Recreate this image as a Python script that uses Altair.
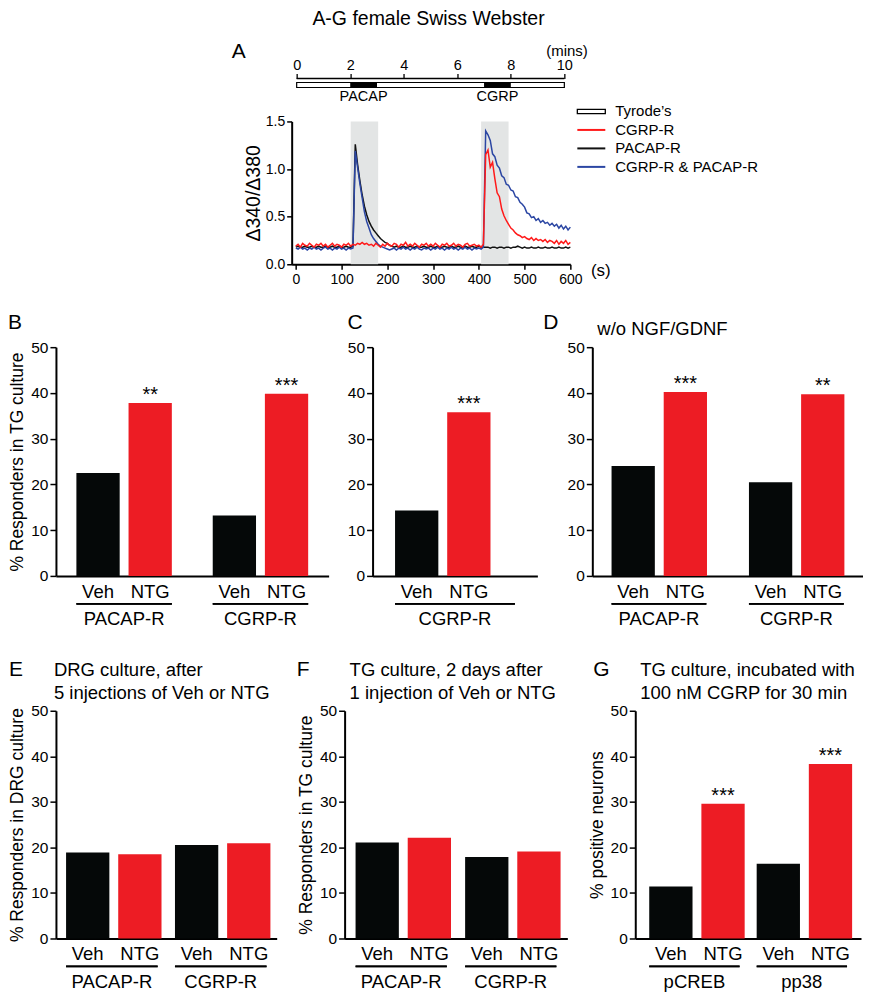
import altair as alt
import pandas as pd

# ---------------- data ----------------
TIME_S = list(range(0, 601, 5))
CGRP_R = [
    0.19, 0.21, 0.18, 0.22, 0.20, 0.19, 0.22, 0.20, 0.18, 0.21,
    0.20, 0.22, 0.19, 0.21, 0.18, 0.20, 0.22, 0.19, 0.21, 0.20,
    0.18, 0.21, 0.20, 0.22, 0.19, 0.21, 0.20, 0.22, 0.21, 0.23,
    0.21, 0.22, 0.20, 0.21, 0.19, 0.22, 0.20, 0.18, 0.21, 0.19,
    0.22, 0.20, 0.19, 0.22, 0.21, 0.18, 0.21, 0.20, 0.23, 0.19,
    0.21, 0.19, 0.22, 0.20, 0.18, 0.21, 0.20, 0.22, 0.19, 0.21,
    0.19, 0.22, 0.20, 0.18, 0.21, 0.20, 0.22, 0.19, 0.20, 0.22,
    0.19, 0.21, 0.20, 0.18, 0.21, 0.22, 0.19, 0.20, 0.21, 0.19,
    0.20, 0.18, 0.21, 1.15, 1.20, 1.02, 1.07, 0.90, 0.75, 0.71,
    0.58, 0.51, 0.46, 0.42, 0.38, 0.36, 0.33, 0.31, 0.30, 0.28,
    0.29, 0.27, 0.26, 0.28, 0.25, 0.27, 0.25, 0.26, 0.24, 0.26,
    0.23, 0.25, 0.24, 0.22, 0.25, 0.21, 0.24, 0.22, 0.25, 0.21,
    0.23,
]
PACAP_R = [
    0.18, 0.19, 0.18, 0.18, 0.19, 0.18, 0.18, 0.19, 0.18, 0.18,
    0.19, 0.18, 0.18, 0.19, 0.18, 0.18, 0.19, 0.18, 0.18, 0.19,
    0.18, 0.18, 0.19, 0.18, 0.18, 0.19, 1.26, 1.05, 0.88, 0.73,
    0.61, 0.52, 0.45, 0.40, 0.36, 0.33, 0.30, 0.27, 0.25, 0.23,
    0.22, 0.20, 0.19, 0.18, 0.19, 0.18, 0.18, 0.19, 0.18, 0.18,
    0.19, 0.18, 0.18, 0.19, 0.18, 0.18, 0.19, 0.18, 0.18, 0.19,
    0.18, 0.18, 0.19, 0.18, 0.18, 0.19, 0.18, 0.18, 0.19, 0.18,
    0.18, 0.19, 0.18, 0.18, 0.19, 0.18, 0.18, 0.19, 0.18, 0.18,
    0.19, 0.18, 0.18, 0.18, 0.18, 0.17, 0.18, 0.18, 0.17, 0.18,
    0.18, 0.17, 0.18, 0.18, 0.17, 0.18, 0.18, 0.19, 0.18, 0.17,
    0.18, 0.17, 0.17, 0.18, 0.17, 0.17, 0.18, 0.17, 0.17, 0.18,
    0.17, 0.17, 0.18, 0.17, 0.17, 0.18, 0.17, 0.17, 0.18, 0.17,
    0.18,
]
BOTH_R = [
    0.17, 0.16, 0.18, 0.16, 0.17, 0.15, 0.17, 0.16, 0.18, 0.16,
    0.17, 0.15, 0.17, 0.18, 0.16, 0.17, 0.15, 0.17, 0.16, 0.18,
    0.16, 0.17, 0.15, 0.17, 0.16, 0.17, 1.19, 1.02, 0.85, 0.70,
    0.55, 0.45, 0.38, 0.31, 0.27, 0.24, 0.21, 0.19, 0.18, 0.17,
    0.16, 0.15, 0.16, 0.17, 0.15, 0.17, 0.16, 0.18, 0.16, 0.17,
    0.15, 0.17, 0.16, 0.18, 0.16, 0.15, 0.17, 0.16, 0.17, 0.15,
    0.17, 0.16, 0.18, 0.16, 0.17, 0.15, 0.17, 0.16, 0.18, 0.16,
    0.17, 0.15, 0.17, 0.16, 0.18, 0.16, 0.17, 0.15, 0.17, 0.16,
    0.17, 0.16, 0.18, 1.40, 1.36, 1.30, 1.16, 1.13, 1.04, 1.01,
    0.93, 0.91, 0.84, 0.83, 0.78, 0.77, 0.71, 0.70, 0.65, 0.63,
    0.60, 0.54, 0.53, 0.49, 0.50, 0.46, 0.48, 0.44, 0.46, 0.43,
    0.44, 0.41, 0.43, 0.40, 0.42, 0.38, 0.41, 0.37, 0.40, 0.36,
    0.39,
]
SHADE_START = [120, 405]
SHADE_END = [180, 465]

PERFUSION_START = [0]
PERFUSION_END = [10]
STIM_NAMES = ["PACAP", "CGRP"]
STIM_START = [2, 7]
STIM_END = [3, 8]

LEGEND_LABELS = ["Tyrode\u2019s", "CGRP-R", "PACAP-R", "CGRP-R & PACAP-R"]

CONDITIONS = ["Veh", "NTG"]

B_GROUPS = ["PACAP-R", "CGRP-R"]
B_VEH = [22.5, 13.2]
B_NTG = [37.8, 39.8]
B_STARS = ["**", "***"]

C_GROUPS = ["CGRP-R"]
C_VEH = [14.3]
C_NTG = [35.8]
C_STARS = ["***"]

D_GROUPS = ["PACAP-R", "CGRP-R"]
D_VEH = [24.0, 20.5]
D_NTG = [40.2, 39.7]
D_STARS = ["***", "**"]

E_GROUPS = ["PACAP-R", "CGRP-R"]
E_VEH = [18.9, 20.5]
E_NTG = [18.5, 20.9]
E_STARS = ["", ""]

F_GROUPS = ["PACAP-R", "CGRP-R"]
F_VEH = [21.1, 17.9]
F_NTG = [22.1, 19.1]
F_STARS = ["", ""]

G_GROUPS = ["pCREB", "pp38"]
G_VEH = [11.4, 16.4]
G_NTG = [29.6, 38.3]
G_STARS = ["***", "***"]

assert len(TIME_S) == len(CGRP_R) == len(PACAP_R) == len(BOTH_R)

# ---------------- style ----------------
FONT = "Liberation Sans"
BAR_BLACK = "#050808"
BAR_RED = "#ed1c24"
LINE_RED = "#ff1a1a"
LINE_BLACK = "#111111"
LINE_BLUE = "#2b46a3"
SHADE = "#e3e5e5"


def tick_rule(test, minor, major):
    return {"condition": {"test": test, "value": minor}, "value": major}


# ---------------- bar panels ----------------
def bar_panel(groups, veh, ntg, stars, width, height, pad_outer, pad_inner, pad_sub,
              letter, letter_x, letter_y, ytitle=None, note=None, note_x=0, note_y=0):
    rows = []
    for g, v, n, s in zip(groups, veh, ntg, stars):
        rows.append({"group": g, "cond": CONDITIONS[0], "value": v, "star": ""})
        rows.append({"group": g, "cond": CONDITIONS[1], "value": n, "star": s})
    df = pd.DataFrame(rows)
    base = alt.Chart(df)

    xscale = alt.Scale(paddingInner=pad_inner, paddingOuter=pad_outer)
    x_axis = alt.X(
        "group:N", sort=groups, scale=xscale,
        axis=alt.Axis(title=None, ticks=False, tickSize=0, labelAngle=0, labelPadding=43,
                      labelBaseline="middle", labelFontSize=18.5, domainWidth=2,
                      labelOverlap=False),
    )
    x_plain = alt.X("group:N", sort=groups, scale=xscale)
    xo = alt.XOffset("cond:N", sort=CONDITIONS,
                     scale=alt.Scale(paddingInner=pad_sub, paddingOuter=0))
    yscale = alt.Scale(domain=[0, 50], nice=False)
    y_axis = alt.Y(
        "value:Q", scale=yscale,
        axis=alt.Axis(title=ytitle, values=list(range(0, 51, 5)),
                      labelExpr="datum.value % 10 == 0 ? datum.label : ''",
                      tickSize=tick_rule("datum.value % 10 != 0", 3, 6),
                      tickWidth=1.5, domainWidth=2, labelFontSize=15.5, labelPadding=2,
                      titleFontSize=17.5, titleFontWeight="normal", labelOverlap=False,
                      grid=False),
    )

    bars = base.mark_bar().encode(
        x=x_axis, xOffset=xo, y=y_axis,
        color=alt.condition(alt.datum.cond == CONDITIONS[0],
                            alt.value(BAR_BLACK), alt.value(BAR_RED)),
    )
    cond_text = base.mark_text(fontSize=18.5, baseline="middle", color="black").encode(
        x=x_plain, xOffset=xo, y=alt.value(height + 16), text="cond:N"
    )
    underline = base.mark_bar(color="black").encode(
        x=x_plain, y=alt.value(height + 27), y2=alt.value(height + 28.8)
    )
    star_text = base.mark_text(fontSize=20, baseline="alphabetic", dy=-2, color="black").encode(
        x=x_plain, xOffset=xo, y=alt.Y("value:Q", scale=yscale), text="star:N"
    ).transform_filter("datum.star != ''")
    letter_chart = alt.Chart(pd.DataFrame({"t": [letter]})).mark_text(
        fontSize=21, align="left", baseline="alphabetic", color="black"
    ).encode(x=alt.value(letter_x), y=alt.value(letter_y), text="t:N")
    layers = [bars, cond_text, underline, star_text, letter_chart]
    if note is not None:
        note_chart = alt.Chart(pd.DataFrame({"t": [note]})).mark_text(
            fontSize=18.5, align="left", baseline="alphabetic", color="black",
            lineBreak="\n", lineHeight=23
        ).encode(x=alt.value(note_x), y=alt.value(note_y), text="t:N")
        layers.append(note_chart)
    return alt.layer(*layers).properties(width=width, height=height)


B = bar_panel(B_GROUPS, B_VEH, B_NTG, B_STARS, 273, 229, 0.15, 0.30, 0.17,
              "B", -48, -18, ytitle="% Responders in TG culture")
C = bar_panel(C_GROUPS, C_VEH, C_NTG, C_STARS, 165, 229, 0.1875, 0.0, 0.44,
              "C", -25, -18)
D = bar_panel(D_GROUPS, D_VEH, D_NTG, D_STARS, 271, 229, 0.14, 0.31, 0.17,
              "D", -49, -18, note="w/o NGF/GDNF", note_x=5, note_y=-12)
E = bar_panel(E_GROUPS, E_VEH, E_NTG, E_STARS, 221, 228, 0.093, 0.159, 0.065,
              "E", -47, -35, ytitle="% Responders in DRG culture",
              note="DRG culture, after\n5 injections of Veh or NTG", note_x=-2, note_y=-35)
F = bar_panel(F_GROUPS, F_VEH, F_NTG, F_STARS, 223, 228, 0.10, 0.167, 0.065,
              "F", -48, -35, ytitle="% Responders in TG culture",
              note="TG culture, 2 days after\n1 injection of Veh or NTG", note_x=5, note_y=-35)
G = bar_panel(G_GROUPS, G_VEH, G_NTG, G_STARS, 226, 228, 0.13, 0.159, 0.065,
              "G", -42, -35, ytitle="% positive neurons",
              note="TG culture, incubated with\n100 nM CGRP for 30 min", note_x=5, note_y=-35)

# ---------------- panel A: timeline ----------------
TL_W, TL_H = 273, 5
tl_scale = alt.Scale(domain=[-0.187, 10], nice=False)
perf_df = pd.DataFrame({"start": PERFUSION_START, "end": PERFUSION_END})
stim_df = pd.DataFrame({"name": STIM_NAMES, "start": STIM_START, "end": STIM_END})

perf_rect = alt.Chart(perf_df).mark_rect(fill="white", stroke="black", strokeWidth=1.2).encode(
    x=alt.X("start:Q", scale=tl_scale,
            axis=alt.Axis(orient="top", offset=4, domain=False, values=list(range(0, 11)),
                          labelExpr="datum.value % 2 == 0 ? datum.label : ''",
                          tickSize=tick_rule("datum.value % 2 != 0", 3, 5), tickWidth=1.3,
                          labelPadding=1, labelFontSize=14.5, labelFlush=False,
                          labelOverlap=False, grid=False,
                          title="(mins)", titleAngle=0, titleAlign="right", titleX=296,
                          titleY=-23, titleBaseline="alphabetic", titleFontSize=15,
                          titleFontWeight="normal")),
    x2="end:Q",
)
perf_line = alt.Chart(perf_df).mark_rule(color="black", strokeWidth=1.5).encode(
    x=alt.X("start:Q", scale=tl_scale), x2="end:Q", y=alt.value(-4)
)
stim_rect = alt.Chart(stim_df).mark_rect(color="black").encode(
    x=alt.X("start:Q", scale=tl_scale), x2="end:Q"
)
stim_text = alt.Chart(stim_df).transform_calculate(mid="(datum.start + datum.end) / 2").mark_text(
    fontSize=14.5, baseline="middle", color="black"
).encode(x=alt.X("mid:Q", scale=tl_scale), y=alt.value(15), text="name:N")
letter_a = alt.Chart(pd.DataFrame({"t": ["A"]})).mark_text(
    fontSize=21, align="left", baseline="alphabetic", color="black"
).encode(x=alt.value(-60), y=alt.value(-24.5), text="t:N")

timeline = alt.layer(perf_rect, perf_line, stim_rect, stim_text, letter_a).properties(
    width=TL_W, height=TL_H
)

# ---------------- panel A: traces ----------------
TR_W, TR_H = 279, 143
tr_x = alt.Scale(domain=[-9, 600], nice=False)
tr_y = alt.Scale(domain=[0, 1.5], nice=False)

shade_df = pd.DataFrame({"start": SHADE_START, "end": SHADE_END})
shades = alt.Chart(shade_df).mark_rect(color=SHADE).encode(
    x=alt.X("start:Q", scale=tr_x,
            axis=alt.Axis(title="(s)", values=list(range(0, 601, 50)),
                          labelExpr="datum.value % 100 == 0 ? datum.label : ''",
                          tickSize=tick_rule("datum.value % 100 != 0", 3, 5), tickWidth=1.5,
                          domainWidth=2, labelFontSize=14, labelPadding=3, labelFlush=False,
                          labelOverlap=False, grid=False,
                          titleAngle=0, titleAlign="center", titleBaseline="middle",
                          titleX=309, titleY=6, titleFontSize=17, titleFontWeight="normal")),
    x2="end:Q",
)


def trace_line(values, color, with_axis):
    df = pd.DataFrame({"t": TIME_S, "v": values})
    if with_axis:
        yenc = alt.Y("v:Q", scale=tr_y,
                     axis=alt.Axis(title="\u0394340/\u0394380", values=[0, 0.25, 0.5, 0.75, 1.0, 1.25, 1.5],
                                   labelExpr="datum.value % 0.5 == 0 ? format(datum.value, '.1f') : ''",
                                   tickSize=tick_rule("datum.value % 0.5 != 0", 3, 5),
                                   tickWidth=1.5, domainWidth=2, labelFontSize=14,
                                   labelPadding=2, titleFontSize=19.5, titlePadding=2,
                                   titleFontWeight="normal", labelOverlap=False, grid=False))
    else:
        yenc = alt.Y("v:Q", scale=tr_y)
    return alt.Chart(df).mark_line(color=color, strokeWidth=1.5).encode(
        x=alt.X("t:Q", scale=tr_x), y=yenc
    )


lines = alt.layer(
    shades,
    trace_line(PACAP_R, LINE_BLACK, True),
    trace_line(BOTH_R, LINE_BLUE, False),
    trace_line(CGRP_R, LINE_RED, False),
)

leg_df = pd.DataFrame({"label": LEGEND_LABELS})
leg_y = alt.Y("label:N", sort=LEGEND_LABELS,
              scale=alt.Scale(type="point", domain=LEGEND_LABELS, range=[-10, 45.5], padding=0),
              axis=None)
leg_rect = alt.Chart(leg_df).transform_filter(
    alt.datum.label == LEGEND_LABELS[0]
).mark_point(shape="M-1,-0.15L1,-0.15L1,0.15L-1,0.15Z", size=784, filled=False,
             color="black", strokeWidth=1.3, opacity=1).encode(x=alt.value(300), y=leg_y)
leg_lines = alt.Chart(leg_df).transform_filter(
    alt.datum.label != LEGEND_LABELS[0]
).mark_point(shape="M-1,0L1,0", size=784, filled=False, strokeWidth=2, opacity=1).encode(
    x=alt.value(300), y=leg_y,
    color=alt.Color("label:N", scale=alt.Scale(domain=LEGEND_LABELS[1:],
                                               range=[LINE_RED, LINE_BLACK, LINE_BLUE]),
                    legend=None),
)
leg_text = alt.Chart(leg_df).mark_text(fontSize=15, align="left", baseline="middle",
                                       color="black").encode(
    x=alt.value(324), y=leg_y, text="label:N"
)

trace = alt.layer(lines, leg_rect, leg_lines, leg_text).resolve_scale(y="independent").properties(
    width=TR_W, height=TR_H
)

SPACER_W = 176
spacer = alt.Chart(pd.DataFrame({"a": [0]})).mark_rect(color="white").encode(
    x=alt.value(0), x2=alt.value(SPACER_W), y=alt.value(0), y2=alt.value(1)
).properties(width=SPACER_W, height=1)

row_a = alt.hconcat(spacer, alt.vconcat(timeline, trace, spacing=0), spacing=0)
row_bd = alt.hconcat(alt.hconcat(B, C, spacing=18), D, spacing=6)
row_eg = alt.hconcat(alt.hconcat(E, F, spacing=20), G, spacing=20)

chart = alt.vconcat(
    alt.vconcat(row_a, row_bd, spacing=26), row_eg, spacing=30
).properties(
    title=alt.TitleParams("A-G  female Swiss Webster", fontSize=19.5, fontWeight="normal",
                          anchor="middle", dx=-7, offset=12, color="black"),
    padding=0,
).configure(font=FONT).configure_view(stroke=None).configure_axis(
    labelColor="black", titleColor="black", domainColor="black", tickColor="black"
)

chart.save("out.html", embed_options={"renderer": "svg", "actions": False})
